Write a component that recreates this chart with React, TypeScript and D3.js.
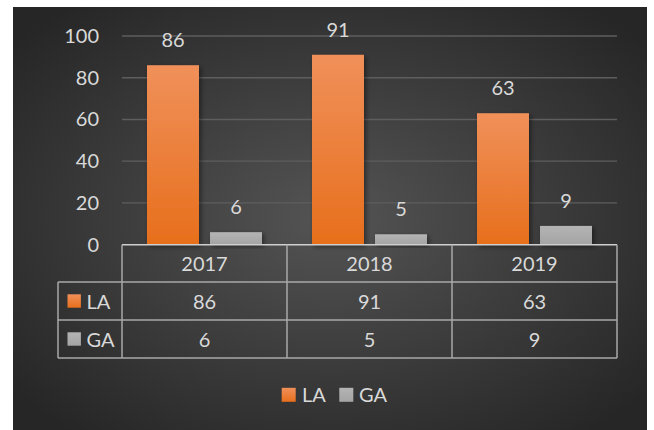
import React from "react";
import * as d3 from "d3";

const categories = ["2017", "2018", "2019"];
const seriesNames = ["LA", "GA"];
const laValues = [86, 91, 63];
const gaValues = [6, 5, 9];
const yTicks = [0, 20, 40, 60, 80, 100];

const W = 654;
const H = 430;
const FONT = "Lato, 'Open Sans', sans-serif";

export default function App() {
  const plotL = 122;
  const plotR = 617;
  const y0 = 244.7;
  const y100 = 36;
  const x = d3.scaleBand<string>().domain(categories).range([plotL, plotR]);
  const inner = d3.scaleBand<string>().domain(seriesNames).range([25, x.bandwidth() - 25]).paddingInner(0.175);
  const y = d3.scaleLinear().domain([0, 100]).range([y0, y100]);
  const series = [laValues, gaValues];
  const fills = ["url(#gOrange)", "url(#gGray)"];
  const swatch = ["#ef7b2d", "#aaaaaa"];

  const rowTop = [y0, 282, 320];
  const rowBot = 358;
  const tableLeft = 58;
  const lineColor = "#a9a9a9";

  return (
    <svg width={W} height={H} style={{ position: "absolute", left: 0, top: 0 }}>
      <defs>
        <radialGradient id="bg" cx="50%" cy="50%" r="65%">
          <stop offset="0%" stopColor="#545454" />
          <stop offset="100%" stopColor="#262626" />
        </radialGradient>
        <linearGradient id="gOrange" x1="0" y1="0" x2="0" y2="1">
          <stop offset="0%" stopColor="#f0905a" />
          <stop offset="100%" stopColor="#e76f1c" />
        </linearGradient>
        <linearGradient id="gGray" x1="0" y1="0" x2="0" y2="1">
          <stop offset="0%" stopColor="#b4b4b4" />
          <stop offset="100%" stopColor="#a4a4a4" />
        </linearGradient>
        <filter id="shadow" x="-20%" y="-20%" width="150%" height="150%">
          <feDropShadow dx="2" dy="2" stdDeviation="2.5" floodColor="#000" floodOpacity="0.45" />
        </filter>
      </defs>
      <rect x={13} y={7} width={634} height={H - 7} fill="url(#bg)" />

      {yTicks.slice(1).map((t) => (
        <line key={t} x1={plotL} x2={plotR} y1={y(t)} y2={y(t)} stroke="#5e5e5e" strokeWidth={1.3} />
      ))}
      {yTicks.map((t) => (
        <text key={t} x={99} y={y(t) + 7} textAnchor="end" fontFamily={FONT} fontSize={20} fill="#d9d9d9">
          {t}
        </text>
      ))}

      {categories.map((c, i) => (
        <g key={c} transform={`translate(${x(c)},0)`}>
          {series.map((vals, s) => {
            const bx = inner(seriesNames[s])!;
            const bw = inner.bandwidth();
            return (
              <g key={s}>
                <rect
                  x={bx}
                  y={y(vals[i])}
                  width={bw}
                  height={y0 - y(vals[i])}
                  fill={fills[s]}
                  filter="url(#shadow)"
                />
                <text
                  x={bx + bw / 2}
                  y={y(vals[i]) - 18}
                  textAnchor="middle"
                  fontFamily={FONT}
                  fontSize={20}
                  fill="#d9d9d9"
                >
                  {vals[i]}
                </text>
              </g>
            );
          })}
        </g>
      ))}

      {/* data table */}
      <g stroke={lineColor} strokeWidth={1.5} fill="none">
        <line x1={plotL} x2={plotR} y1={y0} y2={y0} stroke="#cfcfcf" />
        <line x1={tableLeft} x2={plotR} y1={rowTop[1]} y2={rowTop[1]} />
        <line x1={tableLeft} x2={plotR} y1={rowTop[2]} y2={rowTop[2]} />
        <line x1={tableLeft} x2={plotR} y1={rowBot} y2={rowBot} />
        <line x1={tableLeft} x2={tableLeft} y1={rowTop[1]} y2={rowBot} />
        {categories.map((c) => (
          <line key={c} x1={x(c)!} x2={x(c)!} y1={y0} y2={rowBot} />
        ))}
        <line x1={plotR} x2={plotR} y1={y0} y2={rowBot} />
      </g>
      {categories.map((c) => (
        <text key={c} x={x(c)! + x.bandwidth() / 2} y={270.5} textAnchor="middle" fontFamily={FONT} fontSize={20} fill="#d9d9d9">
          {c}
        </text>
      ))}
      {series.map((vals, s) => (
        <g key={s}>
          <rect x={67.5} y={rowTop[s + 1] + 12.3} width={13.4} height={13.4} fill={fills[s]} />
          <text x={86.5} y={rowTop[s + 1] + 26.5} fontFamily={FONT} fontSize={20} fill="#d9d9d9">
            {seriesNames[s]}
          </text>
          {categories.map((c, i) => (
            <text
              key={c}
              x={x(c)! + x.bandwidth() / 2}
              y={rowTop[s + 1] + 26.5}
              textAnchor="middle"
              fontFamily={FONT}
              fontSize={20}
              fill="#d9d9d9"
            >
              {vals[i]}
            </text>
          ))}
        </g>
      ))}

      {/* legend */}
      <g>
        <rect x={281.7} y={387.8} width={14} height={14} fill={fills[0]} />
        <text x={302} y={401.7} fontFamily={FONT} fontSize={20} fill="#d9d9d9">
          {seriesNames[0]}
        </text>
        <rect x={339.3} y={387.8} width={14} height={14} fill={fills[1]} />
        <text x={359} y={401.7} fontFamily={FONT} fontSize={20} fill="#d9d9d9">
          {seriesNames[1]}
        </text>
      </g>
    </svg>
  );
}
